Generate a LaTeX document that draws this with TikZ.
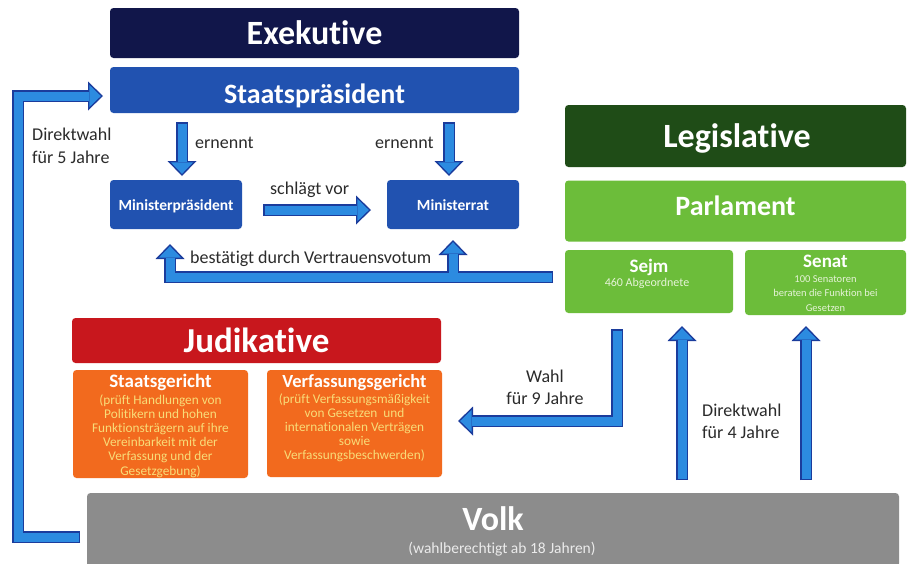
\documentclass[tikz,border=0pt]{standalone}
\usepackage{fontspec}
\setmainfont{Carlito}[Ligatures=NoCommon]
\usetikzlibrary{arrows.meta}
\definecolor{navy}{HTML}{11164A}
\definecolor{boxblue}{HTML}{2152B0}
\definecolor{arrlight}{HTML}{2C8BE0}
\definecolor{arrdark}{HTML}{1B3C9C}
\definecolor{darkgreen}{HTML}{1F4C17}
\definecolor{pgreen}{HTML}{6CBD3A}
\definecolor{jred}{HTML}{C8171D}
\definecolor{jorange}{HTML}{F26A1E}
\definecolor{jyellow}{HTML}{F8DC78}
\definecolor{vgray}{HTML}{8C8C8C}
\definecolor{labeltext}{HTML}{2B2B2B}
\definecolor{sejmtext}{HTML}{E6F3D8}
\newcommand\fsz[1]{\fontsize{#1}{#1}\selectfont}
\newcommand\cstack[2]{\vtop{\baselineskip=#1\relax\lineskiplimit=-20pt\halign{\hfil##\hfil\cr#2\crcr}}}
\newcommand\lstack[2]{\vtop{\baselineskip=#1\relax\lineskiplimit=-20pt\halign{##\hfil\cr#2\crcr}}}
\tikzset{
  box/.style={rounded corners=3.5pt, inner sep=0pt, draw=none},
  ttl/.style={text=white, inner sep=0pt, anchor=base},
  lbl/.style={text=labeltext, inner sep=0pt, anchor=base west, font=\fsz{18}},
  ardark/.style={draw=arrdark, line width=12pt, line join=miter, shorten >=0pt, shorten <=0pt,
    -{Triangle[length=15pt,width=29pt,line width=0pt]}},
  arlight/.style={draw=arrlight, line width=9pt, line join=miter, shorten >=2.2pt, shorten <=1.5pt,
    -{Triangle[length=11.5pt,width=22.3pt,line width=0pt]}},
  barrow/.style={arlight, preaction={ardark}}
}
\begin{document}
\begin{tikzpicture}[x=1pt,y=-1pt]
\useasboundingbox (0,0) rectangle (907,563);
\fill[white] (0,0) rectangle (907,563);

% ---------- boxes ----------
\node[box, fill=navy, minimum width=409pt, minimum height=50pt] (exek) at (314.5,33) {};
\node[box, fill=boxblue, minimum width=409pt, minimum height=46pt] (sp) at (314.5,90) {};
\node[box, fill=boxblue, minimum width=132pt, minimum height=49pt] (mp) at (176,204.5) {};
\node[box, fill=boxblue, minimum width=132pt, minimum height=49pt] (mr) at (453,204.5) {};
\node[box, fill=darkgreen, minimum width=341pt, minimum height=62pt] (leg) at (735.5,136) {};
\node[box, fill=pgreen, minimum width=341pt, minimum height=61pt] (parl) at (735.5,211) {};
\node[box, fill=pgreen, minimum width=168pt, minimum height=63pt] (sejm) at (649,281.5) {};
\node[box, fill=pgreen, minimum width=161pt, minimum height=65pt] (senat) at (825.5,282.5) {};
\node[box, fill=jred, minimum width=369pt, minimum height=45pt] (jud) at (256.5,340.5) {};
\node[box, fill=jorange, minimum width=175pt, minimum height=108pt] (sg) at (160.5,424) {};
\node[box, fill=jorange, minimum width=175pt, minimum height=107pt] (vg) at (354.5,423.5) {};
\node[box, fill=vgray, minimum width=812pt, minimum height=74pt] (volk) at (493,530) {};

% ---------- box texts ----------
\node[ttl, font=\bfseries\fsz{34}] (exekT) at (314.5,44) {Exekutive};
\node[ttl, font=\bfseries\fsz{28}] (spT) at (314.5,103) {Staatspräsident};
\node[ttl, font=\bfseries\fsz{15.5}] (mpT) at (176,210) {Ministerpräsident};
\node[ttl, font=\bfseries\fsz{15.5}] (mrT) at (453,210) {Ministerrat};
\node[ttl, font=\bfseries\fsz{34}] (legT) at (737,147) {Legislative};
\node[ttl, font=\bfseries\fsz{28}] (parlT) at (735.5,215) {Parlament};
\node[ttl, font=\bfseries\fsz{19}] (sejmT) at (649,272) {Sejm};
\node[ttl, font=\fsz{12}, text=sejmtext] (sejmS) at (647,286) {460 Abgeordnete};
\node[ttl, font=\bfseries\fsz{19}] (senatT) at (825.5,267) {Senat};
\node[ttl, font=\fsz{10.5}, text=sejmtext] (senatS) at (825.5,282) {\cstack{14.5pt}{100 Senatoren\cr beraten die Funktion bei\cr Gesetzen}};
\node[ttl, font=\bfseries\fsz{35}] (judT) at (256.5,352) {Judikative};
\node[ttl, font=\bfseries\fsz{19}] (sgT) at (160.5,387) {Staatsgericht};
\node[ttl, font=\fsz{13.3}, text=jyellow] (sgS) at (160.5,404) {\cstack{14.2pt}{(prüft Handlungen von\cr Politikern und hohen\cr Funktionsträgern auf ihre\cr Vereinbarkeit mit der\cr Verfassung und der\cr Gesetzgebung)}};
\node[ttl, font=\bfseries\fsz{18.5}] (vgT) at (354.5,387) {Verfassungsgericht};
\node[ttl, font=\fsz{13.3}, text=jyellow] (vgS) at (354.5,403) {\cstack{14pt}{(prüft Verfassungsmäßigkeit\cr von Gesetzen\ \ und\cr internationalen Verträgen\cr sowie\cr Verfassungsbeschwerden)}};
\node[ttl, font=\bfseries\fsz{34}] (volkT) at (493,530) {Volk};
\node[ttl, font=\fsz{15.5}, text=white!92!black] (volkS) at (502,553) {(wahlberechtigt ab 18 Jahren)};

% ---------- connector labels ----------
\node[lbl] (ern1) at (195,148) {ernennt};
\node[lbl] (ern2) at (375,148) {ernennt};
\node[lbl] (dw5) at (32,140) {\lstack{23pt}{Direktwahl\cr für 5 Jahre}};
\node[lbl] (sv) at (270,194) {schlägt vor};
\node[lbl] (bv) at (190,263) {bestätigt durch Vertrauensvotum};
\node[lbl, anchor=base] (wahl) at (545,382) {\cstack{22pt}{Wahl\cr für 9 Jahre}};
\node[lbl] (dw4) at (702,416) {\lstack{22pt}{Direktwahl\cr für 4 Jahre}};

% ---------- connector end points ----------
\coordinate (e1a) at (182,122);  \coordinate (e1b) at (182,176);
\coordinate (e2a) at (449,122);  \coordinate (e2b) at (449,176);
\coordinate (sva) at (263,210);  \coordinate (svb) at (371,210);
\coordinate (bst) at (553,277);  \coordinate (bl) at (170,244);
\coordinate (bj) at (453,277);   \coordinate (br) at (453,240);
\coordinate (la) at (80,537);    \coordinate (lc) at (18,96);   \coordinate (le) at (103,96);
\coordinate (wa) at (617,329);   \coordinate (we) at (458,421);
\coordinate (d1a) at (682,480);  \coordinate (d1b) at (682,326);
\coordinate (d2a) at (806,480);  \coordinate (d2b) at (806,326);

% ---------- connectors ----------
\draw[barrow] (e1a) -- (e1b);
\draw[barrow] (e2a) -- (e2b);
\draw[barrow] (sva) -- (svb);
\draw[ardark] (bst) -| (bl);
\draw[ardark] (bj) -- (br);
\draw[arlight] (bst) -| (bl);
\draw[arlight, shorten <=0pt] (bj) -- (br);
\draw[barrow] (la) -| (lc) -- (le);
\draw[barrow] (wa) |- (we);
\draw[barrow] (d1a) -- (d1b);
\draw[barrow] (d2a) -- (d2b);
\end{tikzpicture}
\end{document}
